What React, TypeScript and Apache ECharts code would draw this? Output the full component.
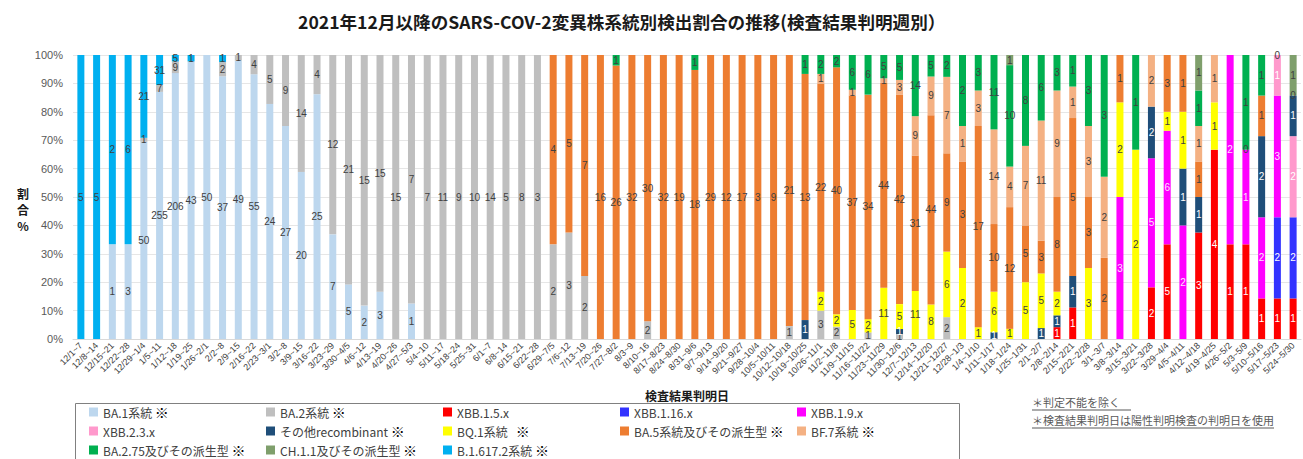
import React, { useEffect, useRef } from "react";
import * as echarts from "echarts";

const _ = null;

const categories = [
  "12/1~7", "12/8~14", "12/15~21", "12/22~28", "12/29~1/4", "1/5~11", "1/12~18", "1/19~25", "1/26~2/1", "2/2~8",
  "2/9~15", "2/16~22", "2/23~3/1", "3/2~8", "3/9~15", "3/16~22", "3/23~29", "3/30~4/5", "4/6~12", "4/13~19",
  "4/20~26", "4/27~5/3", "5/4~10", "5/11~17", "5/18~24", "5/25~31", "6/1~7", "6/8~14", "6/15~21", "6/22~28",
  "6/29~7/5", "7/6~12", "7/13~19", "7/20~26", "7/27~8/2", "8/3~9", "8/10~16", "8/17~8/23", "8/24~8/30", "8/31~9/6",
  "9/7~9/13", "9/14~9/20", "9/21~9/27", "9/28~10/4", "10/5~10/11", "10/12~10/18", "10/19~10/25", "10/26~11/1", "11/2~11/8", "11/9~11/15",
  "11/16~11/22", "11/23~11/29", "11/30~12/6", "12/7~12/13", "12/14~12/20", "12/21~12/27", "12/28~1/3", "1/4~1/10", "1/11~1/17", "1/18~1/24",
  "1/25~1/31", "2/1~2/7", "2/8~2/14", "2/15~2/21", "2/22~2/28", "3/1~3/7", "3/8~3/14", "3/15~3/21", "3/22~3/28", "3/29~4/4",
  "4/5~4/11", "4/12~4/18", "4/19~4/25", "4/26~5/2", "5/3~5/9", "5/10~5/16", "5/17~5/23", "5/24~5/30",
];

const seriesNames = [
  "BA.1系統 ※", "BA.2系統 ※", "XBB.1.5.x", "XBB.1.16.x", "XBB.1.9.x",
  "XBB.2.3.x", "その他recombinant ※", "BQ.1系統   ※", "BA.5系統及びその派生型 ※", "BF.7系統 ※",
  "BA.2.75及びその派生型 ※", "CH.1.1及びその派生型 ※", "B.1.617.2系統 ※",
];

const seriesColors = [
  "#BDD7EE", "#BFBFBF", "#FF0000", "#3333FF", "#FF00FF",
  "#FF99CC", "#1F4E79", "#FFFF00", "#ED7D31", "#F4B183",
  "#00B050", "#7F9F6C", "#00B0F0",
];

const labelColors = [
  "#404040", "#404040", "#FFFFFF", "#FFFFFF", "#FFE0FF",
  "#FFFFFF", "#FFFFFF", "#404040", "#404040", "#404040",
  "#404040", "#404040", "#404040",
];

// counts per week (null = not detected)
const BA1 = [
  _, _, 1, 3, 50, 255, 206, 43, 50, 37,
  49, 55, 24, 27, 20, 25, 7, 5, 2, 3,
  _, 1, _, _, _, _, _, _, _, _,
  _, _, _, _, _, _, _, _, _, _,
  _, _, _, _, _, _, _, _, _, _,
  _, _, _, _, _, _, _, _, _, _,
  _, _, _, _, _, _, _, _, _, _,
  _, _, _, _, _, _, _, _,
];
const BA2 = [
  _, _, _, _, 1, 7, 9, _, _, 2,
  1, 4, 5, 9, 14, 4, 12, 21, 15, 15,
  15, 7, 7, 11, 9, 10, 14, 5, 8, 3,
  2, 3, 2, _, _, _, 2, _, _, _,
  _, _, _, _, _, 1, _, 3, 2, _,
  1, _, 1, _, _, 2, _, _, _, _,
  _, _, _, _, _, _, _, _, _, _,
  _, _, _, _, _, _, _, _,
];
const XBB15 = [
  _, _, _, _, _, _, _, _, _, _,
  _, _, _, _, _, _, _, _, _, _,
  _, _, _, _, _, _, _, _, _, _,
  _, _, _, _, _, _, _, _, _, _,
  _, _, _, _, _, _, _, _, _, _,
  _, _, _, _, _, _, _, _, _, _,
  _, _, 1, 1, _, _, _, _, 2, 5,
  _, 3, 4, 1, 1, 1, 1, 1,
];
const XBB116 = [
  _, _, _, _, _, _, _, _, _, _,
  _, _, _, _, _, _, _, _, _, _,
  _, _, _, _, _, _, _, _, _, _,
  _, _, _, _, _, _, _, _, _, _,
  _, _, _, _, _, _, _, _, _, _,
  _, _, _, _, _, _, _, _, _, _,
  _, _, _, _, _, _, _, _, _, _,
  _, _, _, _, _, _, 2, 2,
];
const XBB19 = [
  _, _, _, _, _, _, _, _, _, _,
  _, _, _, _, _, _, _, _, _, _,
  _, _, _, _, _, _, _, _, _, _,
  _, _, _, _, _, _, _, _, _, _,
  _, _, _, _, _, _, _, _, _, _,
  _, _, _, _, _, _, _, _, _, _,
  _, _, _, _, _, _, 3, _, 5, 6,
  2, _, _, 2, 1, 2, 3, _,
];
const XBB23 = [
  _, _, _, _, _, _, _, _, _, _,
  _, _, _, _, _, _, _, _, _, _,
  _, _, _, _, _, _, _, _, _, _,
  _, _, _, _, _, _, _, _, _, _,
  _, _, _, _, _, _, _, _, _, _,
  _, _, _, _, _, _, _, _, _, _,
  _, _, _, _, _, _, _, _, _, _,
  _, _, _, _, _, _, 1, 2,
];
const OTHER = [
  _, _, _, _, _, _, _, _, _, _,
  _, _, _, _, _, _, _, _, _, _,
  _, _, _, _, _, _, _, _, _, _,
  _, _, _, _, _, _, _, _, _, _,
  _, _, _, _, _, _, 1, _, _, _,
  _, _, 1, _, _, _, _, _, 1, _,
  _, 1, 1, 1, _, _, _, _, 2, _,
  1, 1, _, _, _, 2, _, 1,
];
const BQ1 = [
  _, _, _, _, _, _, _, _, _, _,
  _, _, _, _, _, _, _, _, _, _,
  _, _, _, _, _, _, _, _, _, _,
  _, _, _, _, _, _, _, _, _, _,
  _, _, _, _, _, _, _, 2, 2, 5,
  2, 11, 5, 11, 8, 6, 2, 1, 6, 1,
  5, 5, 2, _, 3, _, 2, 2, _, 1,
  1, _, 1, _, _, _, _, _,
];
const BA5 = [
  _, _, _, _, _, _, _, _, _, _,
  _, _, _, _, _, _, _, _, _, _,
  _, _, _, _, _, _, _, _, _, _,
  4, 5, 7, 16, 26, 32, 30, 32, 19, 18,
  29, 12, 17, 3, 9, 21, 13, 22, 40, 37,
  34, 44, 42, 31, 44, 9, 3, 17, 10, 12,
  5, 3, 8, 5, 3, 2, 1, _, _, 3,
  1, 1, _, _, 0, 1, _, _,
];
const BF7 = [
  _, _, _, _, _, _, _, _, _, _,
  _, _, _, _, _, _, _, _, _, _,
  _, _, _, _, _, _, _, _, _, _,
  _, _, _, _, _, _, _, _, _, _,
  _, _, _, _, _, _, _, 1, _, 1,
  _, 1, 3, 9, 9, 7, 1, 3, 14, 4,
  7, 11, 9, 1, 3, 2, _, _, 2, _,
  _, 1, 1, _, _, _, _, _,
];
const BA275 = [
  _, _, _, _, _, _, _, _, _, _,
  _, _, _, _, _, _, _, _, _, _,
  _, _, _, _, _, _, _, _, _, _,
  _, _, _, _, 1, _, _, _, _, 1,
  _, _, _, _, _, _, 1, 2, 2, 6,
  6, 5, 5, 14, 5, 2, 2, 3, 11, 10,
  8, 6, 3, 1, 3, 3, _, 1, _, _,
  _, 1, _, _, 1, 1, _, 0,
];
const CH11 = [
  _, _, _, _, _, _, _, _, _, _,
  _, _, _, _, _, _, _, _, _, _,
  _, _, _, _, _, _, _, _, _, _,
  _, _, _, _, _, _, _, _, _, _,
  _, _, _, _, _, _, _, _, _, _,
  _, _, _, _, _, _, _, _, _, 1,
  _, _, _, _, _, _, _, _, _, _,
  _, 1, _, _, _, _, 0, 1,
];
const DELTA = [
  5, 5, 2, 6, 21, 31, 5, 1, _, 1,
  _, _, _, _, _, _, _, _, _, _,
  _, _, _, _, _, _, _, _, _, _,
  _, _, _, _, _, _, _, _, _, _,
  _, _, _, _, _, _, _, _, _, _,
  _, _, _, _, _, _, _, _, _, _,
  _, _, _, _, _, _, _, _, _, _,
  _, _, _, _, _, _, _, _,
];

const yTicks = [0, 10, 20, 30, 40, 50, 60, 70, 80, 90, 100];

const titleText = "2021年12月以降のSARS-COV-2変異株系統別検出割合の推移(検査結果判明週別）";
const xAxisName = "検査結果判明日";
const yAxisNameParts = ["割", "合", "%"];
const notes = ["＊判定不能を除く", "＊検査結果判明日は陽性判明検査の判明日を使用"];

const CJK = "'Noto Sans CJK JP', 'Noto Sans', sans-serif";

export default function App() {
  const ref = useRef<HTMLDivElement>(null);
  useEffect(() => {
    const chart = echarts.init(ref.current!, null, { renderer: "svg" });
    const all = [BA1, BA2, XBB15, XBB116, XBB19, XBB23, OTHER, BQ1, BA5, BF7, BA275, CH11, DELTA];
    const totals = categories.map((c, i) => all.reduce((s, a) => s + (a[i] ?? 0), 0));
    const series = all.map((arr, k) => ({
      name: seriesNames[k],
      type: "bar",
      stack: "total",
      barWidth: 7,
      itemStyle: { color: seriesColors[k] },
      label: {
        show: true,
        position: "inside",
        fontSize: 10,
        fontFamily: "'Liberation Sans', sans-serif",
        color: labelColors[k],
        textBorderWidth: 0,
        formatter: (p: any) => (arr[p.dataIndex] == null ? "" : String(arr[p.dataIndex])),
      },
      data: arr.map((v, i) => (v == null ? null : (v / totals[i]) * 100)),
    }));

    const colX = [89, 266, 443, 620, 797];
    const rowTop = [405, 424, 443];
    const legends = seriesNames.map((name, k) => ({
      data: [name],
      left: colX[k % 5],
      top: rowTop[Math.floor(k / 5)],
      orient: "horizontal",
      itemWidth: 9,
      itemHeight: 9,
      padding: 0,
      icon: "rect",
      selectedMode: false,
      formatter: (n: string) => n.replace("※", "{m|※}"),
      textStyle: {
        fontSize: 12,
        lineHeight: 14,
        color: "#404040",
        fontFamily: CJK,
        rich: { m: { fontSize: 14, lineHeight: 14, fontWeight: "bold", color: "#000", fontFamily: CJK } },
      },
    }));

    const yNameTexts = yAxisNameParts.map((t, i) => ({
      type: "text",
      x: 23,
      y: 193 + i * 16,
      style: {
        text: t,
        fontSize: 12,
        fontWeight: "bold",
        fill: "#1a1a1a",
        fontFamily: CJK,
        align: "center",
        verticalAlign: "middle",
      },
    }));

    chart.setOption({
      animation: false,
      title: {
        text: titleText,
        left: 293,
        top: 8,
        textStyle: { fontSize: 17.6, fontWeight: "bold", color: "#1a1a1a", fontFamily: CJK },
      },
      grid: { left: 73, right: 2, top: 55, bottom: 120, containLabel: false },
      legend: legends,
      xAxis: {
        type: "category",
        data: categories,
        axisTick: { show: false },
        axisLine: { lineStyle: { color: "#D9D9D9" } },
        axisLabel: { interval: 0, rotate: 45, fontSize: 9, color: "#404040", margin: 5, fontFamily: "'Liberation Sans', sans-serif" },
        name: xAxisName,
        nameLocation: "middle",
        nameGap: 42,
        nameTextStyle: { fontSize: 12, fontWeight: "bold", color: "#1a1a1a", fontFamily: CJK },
      },
      yAxis: {
        type: "value",
        min: yTicks[0],
        max: yTicks[yTicks.length - 1],
        interval: 10,
        axisLabel: { formatter: "{value}%", color: "#595959", fontSize: 11, margin: 10, fontFamily: "'Liberation Sans', sans-serif" },
        axisLine: { show: false },
        axisTick: { show: false },
        splitLine: { lineStyle: { color: "#E6E6E6" } },
      },
      graphic: [
        ...yNameTexts,
        {
          type: "rect",
          shape: { x: 75.5, y: 403.5, width: 884, height: 70 },
          style: { fill: "none", stroke: "#808080", lineWidth: 1 },
          silent: true,
        },
        {
          type: "text",
          x: 1032,
          y: 402,
          style: { text: notes[0], fontSize: 11, fill: "#595959", fontFamily: CJK, verticalAlign: "middle" },
        },
        {
          type: "line",
          shape: { x1: 1032, y1: 410, x2: 1032 + 99, y2: 410 },
          style: { stroke: "#595959", lineWidth: 1 },
        },
        {
          type: "text",
          x: 1032,
          y: 420,
          style: { text: notes[1], fontSize: 11, fill: "#595959", fontFamily: CJK, verticalAlign: "middle" },
        },
        {
          type: "line",
          shape: { x1: 1032, y1: 428, x2: 1032 + 242, y2: 428 },
          style: { stroke: "#595959", lineWidth: 1 },
        },
      ],
      series,
    });
    return () => chart.dispose();
  }, []);
  return <div ref={ref} style={{ position: "absolute", left: 0, top: 0, width: 1303, height: 459 }} />;
}
